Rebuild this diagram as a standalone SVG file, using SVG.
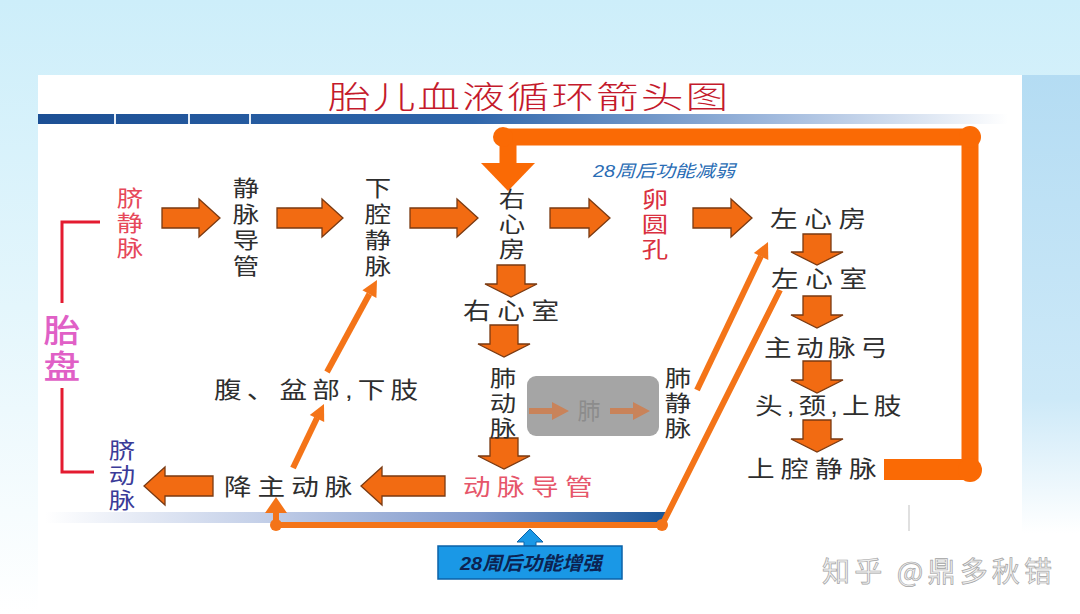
<svg xmlns="http://www.w3.org/2000/svg" width="1080" height="614" viewBox="0 0 1080 614">
<defs>
<linearGradient id="bg" x1="0" y1="0" x2="0" y2="1">
<stop offset="0" stop-color="#cdeefa"/>
<stop offset="0.5" stop-color="#e4f6fc"/>
<stop offset="1" stop-color="#ffffff"/>
</linearGradient>
<linearGradient id="rs" x1="0" y1="0" x2="0" y2="1">
<stop offset="0" stop-color="#b4dcf3"/>
<stop offset="0.6" stop-color="#cde9f8"/>
<stop offset="0.85" stop-color="#ffffff"/>
</linearGradient>
<linearGradient id="topbar" x1="0" y1="0" x2="1" y2="0">
<stop offset="0" stop-color="#1c4f94"/>
<stop offset="0.45" stop-color="#2f66ab"/>
<stop offset="0.75" stop-color="#9db7dc"/>
<stop offset="1" stop-color="#ffffff"/>
</linearGradient>
<linearGradient id="botbar" x1="0" y1="0" x2="1" y2="0">
<stop offset="0" stop-color="#ffffff"/>
<stop offset="0.35" stop-color="#c3cfe8"/>
<stop offset="0.7" stop-color="#7f98cb"/>
<stop offset="1" stop-color="#1a5699"/>
</linearGradient>
<style>
.t{font-family:"Liberation Sans","Noto Sans CJK SC","Noto Sans CJK JP",sans-serif;font-size:23px;fill:#2e2e2e;}
.c{font-size:22px;text-anchor:middle;}
.red{fill:#e6485a;}
.blk{fill:#f26b12;stroke:#7a3a12;stroke-width:1.3;stroke-linejoin:miter;}
.thin{fill:none;stroke:#f47418;stroke-width:6;stroke-linecap:butt;stroke-linejoin:round;}
.head{fill:#f47418;}
.loop{fill:none;stroke:#fa6a05;stroke-width:17;stroke-linejoin:round;}
.brk{fill:none;stroke:#e41b30;stroke-width:3;}
</style>
</defs>

<rect x="0" y="0" width="1080" height="614" fill="url(#bg)"/>
<rect x="1022" y="75" width="58" height="539" fill="url(#rs)"/>
<rect x="38" y="75" width="984" height="539" fill="#ffffff"/>

<g id="title">
<g transform="translate(328,108) scale(1.38,1)"><text class="t" x="0" y="0" textLength="290" lengthAdjust="spacing" style="font-size:31px;fill:#c41a2c;font-weight:300">胎儿血液循环箭头图</text></g>
<rect x="38" y="114" width="970" height="10" fill="url(#topbar)"/>
<rect x="114" y="114" width="2" height="10" fill="#e6eef8"/>
<rect x="188" y="114" width="2" height="10" fill="#e6eef8"/>
<rect x="249" y="114" width="2" height="10" fill="#e6eef8"/>
</g>

<rect x="45" y="512" width="620" height="11" fill="url(#botbar)"/>

<g id="connectors">
<path class="loop" d="M884 469 H970 V137 H508 V165"/>
<rect x="884" y="459" width="86" height="21" fill="#fa6a05"/>
<circle cx="970" cy="137" r="11" fill="#fa6a05"/>
<circle cx="970" cy="470" r="12" fill="#fa6a05"/>
<circle cx="503" cy="137" r="10" fill="#fa6a05"/>
<polygon points="481,163 535,163 508,191" fill="#fa6a05"/>

<polygon class="blk" points="162,208 199,208 199,199 220,218 199,237 199,228 162,228"/>
<polygon class="blk" points="277,208 322,208 322,199 343,218 322,237 322,228 277,228"/>
<polygon class="blk" points="410,208 457,208 457,199 478,218 457,237 457,228 410,228"/>
<polygon class="blk" points="550,208 589,208 589,199 610,218 589,237 589,228 550,228"/>
<polygon class="blk" points="693,208 731,208 731,199 752,218 731,237 731,228 693,228"/>

<polygon class="blk" points="213,476 165,476 165,467 144,486 165,505 165,496 213,496"/>
<polygon class="blk" points="445,476 382,476 382,467 361,486 382,505 382,496 445,496"/>

<polygon class="blk" points="497,265 525,265 525,284 537,284 511,297 485,284 497,284"/>
<polygon class="blk" points="490,325 518,325 518,344 530,344 504,357 478,344 490,344"/>
<polygon class="blk" points="490,438 518,438 518,456 530,456 504,469 478,456 490,456"/>
<polygon class="blk" points="803,234 831,234 831,252 843,252 817,265 791,252 803,252"/>
<polygon class="blk" points="803,296 831,296 831,315 843,315 817,328 791,315 803,315"/>
<polygon class="blk" points="803,361 831,361 831,380 843,380 817,393 791,380 803,380"/>
<polygon class="blk" points="803,420 831,420 831,439 843,439 817,452 791,439 803,439"/>

<line class="thin" x1="293" y1="468" x2="317" y2="418"/>
<polygon class="head" points="324,404 324.2,421.9 309.8,414.9"/>
<line class="thin" x1="327" y1="372" x2="369.4" y2="294"/>
<polygon class="head" points="377,280 376.4,297.9 362.4,290.3"/>
<line class="thin" x1="697" y1="390" x2="761" y2="256"/>
<polygon class="head" points="768,242 768.3,259.9 753.9,253"/>
<path class="thin" d="M780 290 L662 525 L276 525 L276 512"/>
<circle cx="662" cy="525" r="6" fill="#f47418"/>
<circle cx="276" cy="525" r="6" fill="#f47418"/>
<polygon class="head" points="276,497 287,513 265,513"/>

<path class="brk" d="M100 222 H62 V303"/>
<path class="brk" d="M62 388 V472 H94"/>
</g>

<g id="placenta" transform="translate(62,0) scale(1.15,1)" style="fill:#e060c6">
<text class="t" x="0" y="342" style="font-size:32px;text-anchor:middle;fill:#e060c6;font-weight:500">胎</text>
<text class="t" x="0" y="378" style="font-size:32px;text-anchor:middle;fill:#e060c6;font-weight:500">盘</text>
</g>
<g id="umbilical-vein" transform="translate(130,0) scale(1.2,1)">
<text class="t c red" x="0" y="206">脐</text><text class="t c red" x="0" y="231">静</text><text class="t c red" x="0" y="256">脉</text>
</g>
<g id="ductus-venosus" transform="translate(246,0) scale(1.2,1)">
<text class="t c" x="0" y="196">静</text><text class="t c" x="0" y="222">脉</text><text class="t c" x="0" y="248">导</text><text class="t c" x="0" y="274">管</text>
</g>
<g id="ivc" transform="translate(378,0) scale(1.2,1)">
<text class="t c" x="0" y="196">下</text><text class="t c" x="0" y="222">腔</text><text class="t c" x="0" y="248">静</text><text class="t c" x="0" y="274">脉</text>
</g>
<g id="right-atrium" transform="translate(512,0) scale(1.2,1)">
<text class="t c" x="0" y="207">右</text><text class="t c" x="0" y="232">心</text><text class="t c" x="0" y="257">房</text>
</g>
<g id="foramen-ovale" transform="translate(655,0) scale(1.2,1)">
<text class="t c" x="0" y="207" style="fill:#d93040">卵</text><text class="t c" x="0" y="232" style="fill:#d93040">圆</text><text class="t c" x="0" y="257" style="fill:#d93040">孔</text>
</g>
<g id="note-weaken"><text x="593" y="177" textLength="142" lengthAdjust="spacingAndGlyphs" style="font-family:'Liberation Sans','Noto Sans CJK SC',sans-serif;font-size:17px;font-style:italic;fill:#2a6db5">28周后功能减弱</text></g>
<g id="left-atrium" transform="translate(770,227) scale(1.2,1)"><text class="t" x="0" y="0" textLength="80" lengthAdjust="spacing">左心房</text></g>
<g id="left-ventricle" transform="translate(771,287) scale(1.2,1)"><text class="t" x="0" y="0" textLength="80" lengthAdjust="spacing">左心室</text></g>
<g id="aortic-arch" transform="translate(764,356) scale(1.2,1)"><text class="t" x="0" y="0" textLength="103" lengthAdjust="spacing">主动脉弓</text></g>
<g id="head-neck" transform="translate(755,414) scale(1.2,1)"><text class="t" x="0" y="0" textLength="122" lengthAdjust="spacing">头,颈,上肢</text></g>
<g id="svc" transform="translate(747,477) scale(1.2,1)"><text class="t" x="0" y="0" textLength="108" lengthAdjust="spacing">上腔静脉</text></g>
<g id="right-ventricle" transform="translate(463,319) scale(1.2,1)"><text class="t" x="0" y="0" textLength="80" lengthAdjust="spacing">右心室</text></g>
<g id="pulmonary-artery" transform="translate(503,0) scale(1.2,1)">
<text class="t c" x="0" y="386">肺</text><text class="t c" x="0" y="411">动</text><text class="t c" x="0" y="436">脉</text>
</g>
<g id="lung">
<rect x="527" y="376" width="132" height="60" rx="9" fill="#a5a5a5"/>
<polygon points="529,408 552,408 552,402 569,411 552,420 552,414 529,414" fill="#c9835a"/>
<text class="t" x="589" y="419" style="fill:#8c8c8c;text-anchor:middle">肺</text>
<polygon points="610,408 633,408 633,402 650,411 633,420 633,414 610,414" fill="#c9835a"/>
</g>
<g id="pulmonary-vein" transform="translate(678,0) scale(1.2,1)">
<text class="t c" x="0" y="386">肺</text><text class="t c" x="0" y="411">静</text><text class="t c" x="0" y="436">脉</text>
</g>
<g id="ductus-arteriosus" transform="translate(463,495) scale(1.2,1)"><text class="t" x="0" y="0" textLength="108" lengthAdjust="spacing" style="fill:#e6566a">动脉导管</text></g>
<g id="descending-aorta" transform="translate(224,495) scale(1.2,1)"><text class="t" x="0" y="0" textLength="107" lengthAdjust="spacing">降主动脉</text></g>
<g id="lower-body" transform="translate(214,398) scale(1.2,1)"><text class="t" x="0" y="0" textLength="170" lengthAdjust="spacing">腹、盆部,下肢</text></g>
<g id="umbilical-artery" transform="translate(122,0) scale(1.2,1)">
<text class="t c" x="0" y="458" style="fill:#3b3b98">脐</text><text class="t c" x="0" y="483" style="fill:#3b3b98">动</text><text class="t c" x="0" y="508" style="fill:#3b3b98">脉</text>
</g>

<g id="note-strengthen">
<polygon points="530,529 543,542 536,542 536,546 524,546 524,542 517,542" fill="#1a98e6" stroke="#0b62a8" stroke-width="1"/>
<rect x="438" y="546" width="184" height="33" fill="#1a98e6" stroke="#0b62a8" stroke-width="1.5"/>
<text x="460" y="570" textLength="142" lengthAdjust="spacingAndGlyphs" style="font-family:'Liberation Sans','Noto Sans CJK SC',sans-serif;font-size:19px;font-style:italic;font-weight:bold;fill:#0c2352">28周后功能增强</text>
</g>

<line x1="909" y1="505" x2="909" y2="531" stroke="#d6d6d6" stroke-width="1.5"/>
<text x="822" y="582" textLength="230" lengthAdjust="spacing" style="font-family:'Noto Sans CJK SC',sans-serif;font-size:28px;fill:#efefef;stroke:#a3a3a3;stroke-width:0.7">知乎 @鼎多秋错</text>
</svg>
